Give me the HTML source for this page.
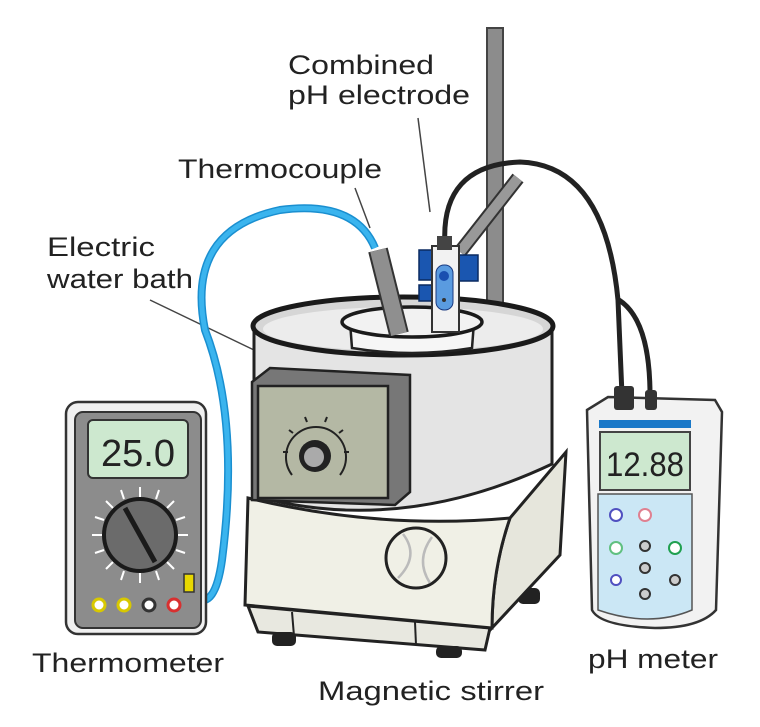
<!DOCTYPE html>
<html><head><meta charset="utf-8"><style>
html,body{margin:0;padding:0;background:#fff;}
svg{display:block;}
text{font-family:"Liberation Sans",sans-serif;font-size:27px;fill:#222;}
</style></head><body>
<svg width="760" height="727" viewBox="0 0 760 727" xmlns="http://www.w3.org/2000/svg">
<rect width="760" height="727" fill="#fff"/>
<!-- labels -->
<text x="288" y="74" textLength="146" lengthAdjust="spacingAndGlyphs">Combined</text>
<text x="288" y="104" textLength="182" lengthAdjust="spacingAndGlyphs">pH electrode</text>
<text x="178" y="178" textLength="204" lengthAdjust="spacingAndGlyphs">Thermocouple</text>
<text x="47" y="256" textLength="108" lengthAdjust="spacingAndGlyphs">Electric</text>
<text x="47" y="288" textLength="146" lengthAdjust="spacingAndGlyphs">water bath</text>
<text x="32" y="672" textLength="192" lengthAdjust="spacingAndGlyphs">Thermometer</text>
<text x="318" y="700" textLength="226" lengthAdjust="spacingAndGlyphs">Magnetic stirrer</text>
<text x="588" y="668" textLength="130" lengthAdjust="spacingAndGlyphs">pH meter</text>
<!-- leader lines -->
<g stroke="#444" stroke-width="1.5">
<line x1="418" y1="118" x2="430" y2="212"/>
<line x1="355" y1="188" x2="370" y2="228"/>
<line x1="150" y1="300" x2="254" y2="350"/>
</g>
<!-- stand rod -->
<rect x="487" y="28" width="16" height="320" fill="#8c8c8c" stroke="#444" stroke-width="2"/>
<!-- stirrer base -->
<rect x="518" y="588" width="22" height="16" rx="5" fill="#222"/>
<path d="M248 606 L490 628 L485 650 L258 632 Z" fill="#e8e8e0" stroke="#222" stroke-width="3"/>
<line x1="292" y1="612" x2="294" y2="636" stroke="#222" stroke-width="2"/>
<line x1="415" y1="622" x2="416" y2="645" stroke="#222" stroke-width="2"/>
<rect x="272" y="632" width="24" height="14" rx="5" fill="#222"/>
<rect x="436" y="646" width="26" height="12" rx="5" fill="#222"/>
<path d="M510 518 L566 452 L560 555 L492 628 Q492 570 510 518 Z" fill="#e6e6dc" stroke="#222" stroke-width="3"/>
<path d="M248 498 Q380 530 510 518 Q492 570 492 628 L245 605 Z" fill="#f0f0e6" stroke="#222" stroke-width="3"/>
<circle cx="416" cy="558" r="30" fill="#f0f0e6" stroke="#222" stroke-width="3"/>
<path d="M403 534 Q420 556 398 578 M432 537 Q415 560 430 583" fill="none" stroke="#bbb" stroke-width="2.5"/>
<!-- bath body -->
<path d="M254 328 L254 496 Q400 536 552 464 L552 328 Z" fill="#e4e4e4" stroke="#222" stroke-width="3"/>
<ellipse cx="403" cy="326" rx="150" ry="29" fill="#d6d6d6" stroke="#1a1a1a" stroke-width="5"/>
<ellipse cx="403" cy="329" rx="140" ry="22" fill="#ececec"/>
<!-- beaker -->
<path d="M350 322 L352 348 Q412 358 472 348 L474 322 Z" fill="#f6f6f6" stroke="#222" stroke-width="2.5"/>
<ellipse cx="412" cy="322" rx="70" ry="15" fill="#f2f2f2" stroke="#1a1a1a" stroke-width="3.5"/>
<!-- control panel -->
<path d="M252 382 L270 368 L410 375 L410 492 L395 505 L252 500 Z" fill="#777" stroke="#222" stroke-width="2.5"/>
<rect x="258" y="386" width="130" height="112" fill="#b4b8a4" stroke="#222" stroke-width="2.5"/>
<path d="M292 475 A30 30 0 1 1 340 475" fill="none" stroke="#222" stroke-width="2"/>
<g stroke="#222" stroke-width="2">
<line x1="288" y1="452" x2="283" y2="452"/><line x1="293" y1="433" x2="289" y2="430"/>
<line x1="307" y1="422" x2="305" y2="417"/><line x1="325" y1="422" x2="327" y2="417"/>
<line x1="339" y1="433" x2="343" y2="430"/><line x1="344" y1="452" x2="349" y2="452"/>
</g>
<circle cx="315" cy="456" r="16" fill="#222"/>
<circle cx="314" cy="457" r="10" fill="#aaa"/>
<!-- thermocouple -->
<line x1="378" y1="250" x2="399" y2="334" stroke="#333" stroke-width="20"/>
<line x1="378" y1="250" x2="399" y2="334" stroke="#8f8f8f" stroke-width="16"/>
<!-- blue cable -->
<path d="M195 598 Q215 610 222 560 Q240 420 205 330 Q185 230 280 210 Q355 200 375 248" fill="none" stroke="#1a8fd0" stroke-width="8"/>
<path d="M195 598 Q215 610 222 560 Q240 420 205 330 Q185 230 280 210 Q355 200 375 248" fill="none" stroke="#3ab4ee" stroke-width="5"/>
<!-- electrode arm -->
<line x1="460" y1="252" x2="518" y2="178" stroke="#333" stroke-width="14"/>
<line x1="460" y1="252" x2="518" y2="178" stroke="#999" stroke-width="10"/>
<!-- black cables -->
<path d="M445 245 Q440 165 520 162 Q605 165 618 300 L622 395" fill="none" stroke="#222" stroke-width="5"/>
<path d="M619 300 Q650 320 650 395" fill="none" stroke="#222" stroke-width="5"/>
<!-- electrode holder -->
<rect x="419" y="250" width="15" height="30" fill="#1a56b0" stroke="#0a2a60" stroke-width="1.5"/>
<rect x="419" y="285" width="15" height="16" fill="#1a56b0" stroke="#0a2a60" stroke-width="1.5"/>
<rect x="458" y="255" width="20" height="26" fill="#1a56b0" stroke="#0a2a60" stroke-width="1.5"/>
<rect x="432" y="246" width="27" height="86" fill="#f2f2f2" stroke="#333" stroke-width="2"/>
<rect x="436" y="265" width="17" height="45" rx="8" fill="#5a9be0" stroke="#1a3a80"/>
<circle cx="444" cy="276" r="5" fill="#1a4fb0"/>
<circle cx="444" cy="300" r="2" fill="#333"/>
<rect x="437" y="236" width="15" height="14" fill="#444"/>
<!-- thermometer -->
<rect x="66" y="402" width="140" height="232" rx="12" fill="#f0f0f0" stroke="#333" stroke-width="2.5"/>
<rect x="75" y="412" width="126" height="216" rx="8" fill="#8c8c8c" stroke="#333" stroke-width="2"/>
<rect x="88" y="420" width="100" height="58" rx="5" fill="#cde8cf" stroke="#333" stroke-width="2"/>
<text x="101" y="466" style="font-size:38px" textLength="74" lengthAdjust="spacingAndGlyphs">25.0</text>
<g stroke="#fff" stroke-width="2">
<line x1="140" y1="487" x2="140" y2="497"/><line x1="140" y1="573" x2="140" y2="583"/>
<line x1="92" y1="535" x2="102" y2="535"/><line x1="178" y1="535" x2="188" y2="535"/>
<line x1="106" y1="501" x2="113" y2="508"/><line x1="174" y1="501" x2="167" y2="508"/>
<line x1="106" y1="569" x2="113" y2="562"/><line x1="174" y1="569" x2="167" y2="562"/>
<line x1="121" y1="490" x2="124" y2="499"/><line x1="159" y1="490" x2="156" y2="499"/>
<line x1="95" y1="517" x2="104" y2="520"/><line x1="185" y1="517" x2="176" y2="520"/>
<line x1="95" y1="553" x2="104" y2="550"/><line x1="185" y1="553" x2="176" y2="550"/>
<line x1="121" y1="580" x2="124" y2="571"/><line x1="159" y1="580" x2="156" y2="571"/>
</g>
<circle cx="140" cy="535" r="36" fill="#6b6b6b" stroke="#1a1a1a" stroke-width="4"/>
<line x1="125" y1="508" x2="155" y2="562" stroke="#1a1a1a" stroke-width="5"/>
<circle cx="99" cy="605" r="6" fill="#fff" stroke="#d8c800" stroke-width="3"/>
<circle cx="124" cy="605" r="6" fill="#fff" stroke="#d8c800" stroke-width="3"/>
<circle cx="149" cy="605" r="6" fill="#fff" stroke="#333" stroke-width="3"/>
<circle cx="174" cy="605" r="6" fill="#fff" stroke="#d83030" stroke-width="3"/>
<rect x="184" y="574" width="10" height="18" fill="#e8d800" stroke="#333" stroke-width="1.5"/>
<!-- pH meter -->
<path d="M587 410 L608 397 L715 400 L722 412 L716 610 Q700 628 655 628 Q600 626 592 610 Z" fill="#f2f2f2" stroke="#333" stroke-width="2.5"/>
<rect x="614" y="386" width="20" height="24" rx="3" fill="#333"/>
<rect x="645" y="390" width="12" height="20" rx="3" fill="#333"/>
<rect x="599" y="420" width="92" height="8" fill="#1a78c8"/>
<rect x="600" y="432" width="90" height="58" fill="#cde8cf" stroke="#444" stroke-width="2"/>
<text x="606" y="476" style="font-size:34px" textLength="78" lengthAdjust="spacingAndGlyphs">12.88</text>
<path d="M598 494 L692 494 L692 610 Q650 628 598 610 Z" fill="#cbe7f5" stroke="#555" stroke-width="1.5"/>
<circle cx="616" cy="515" r="6" fill="#fff" stroke="#5050c0" stroke-width="2"/>
<circle cx="645" cy="515" r="6" fill="#fff" stroke="#e08090" stroke-width="2"/>
<circle cx="616" cy="548" r="6" fill="#fff" stroke="#60c080" stroke-width="2"/>
<circle cx="675" cy="548" r="6" fill="#fff" stroke="#20a050" stroke-width="2"/>
<circle cx="645" cy="546" r="5" fill="#ccc" stroke="#333" stroke-width="2"/>
<circle cx="645" cy="568" r="5" fill="#ccc" stroke="#333" stroke-width="2"/>
<circle cx="616" cy="580" r="5" fill="#fff" stroke="#5050c0" stroke-width="2"/>
<circle cx="675" cy="580" r="5" fill="#ccc" stroke="#333" stroke-width="2"/>
<circle cx="645" cy="594" r="5" fill="#ccc" stroke="#333" stroke-width="2"/>
</svg>
</body></html>
